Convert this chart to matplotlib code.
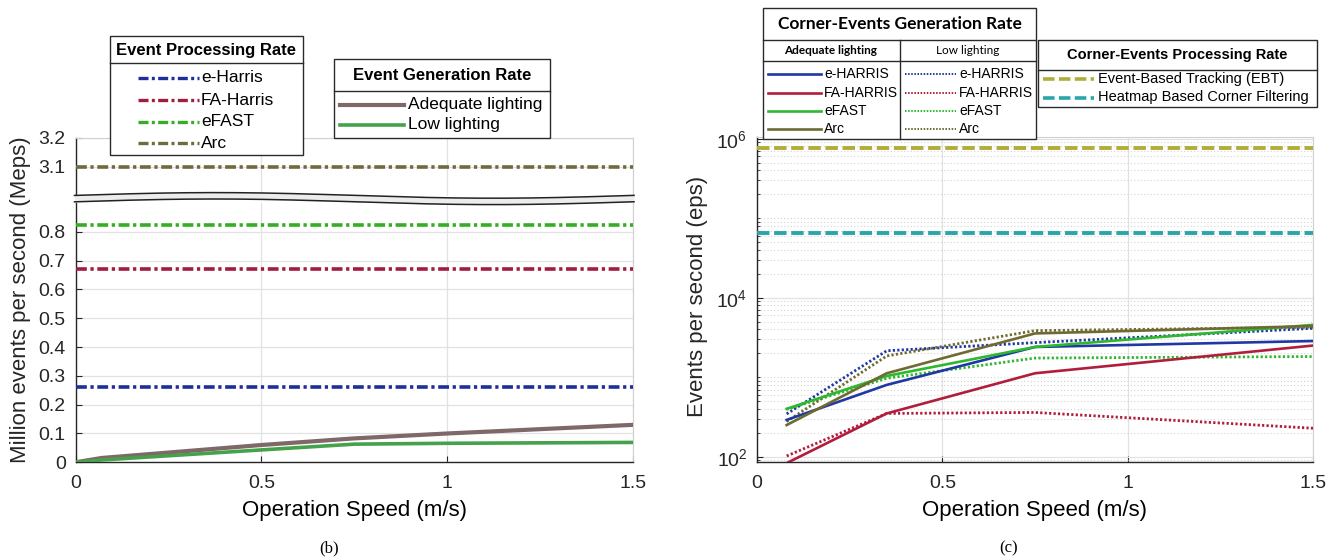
import matplotlib
matplotlib.use('Agg')
import matplotlib.pyplot as plt
import numpy as np
from matplotlib.patches import Rectangle
from matplotlib.ticker import FixedLocator, LogLocator, NullFormatter, FixedFormatter

plt.rcParams['font.family'] = ['Liberation Sans', 'DejaVu Sans']
plt.rcParams['mathtext.default'] = 'regular'

W, H, DPI = 1340, 559, 100

# ---------------- data: panel (b) ----------------
speed_gen = [0.0, 0.07, 0.5, 0.75, 1.0, 1.5]
gen_adequate = [0.0, 0.015, 0.060, 0.083, 0.100, 0.130]
gen_low = [0.0, 0.008, 0.043, 0.063, 0.066, 0.069]
gen_names = ['Adequate lighting', 'Low lighting']
proc_names = ['e-Harris', 'FA-Harris', 'eFAST', 'Arc']
proc_rates = [0.26, 0.67, 0.822, 3.1]
lower_ticks = [0, 0.1, 0.2, 0.3, 0.4, 0.5, 0.6, 0.7, 0.8]
upper_ticks = [3.1, 3.2]
x_ticks = [0, 0.5, 1, 1.5]
x_ticklabels = ['0', '0.5', '1', '1.5']

# ---------------- data: panel (c) ----------------
speed_c = [0.08, 0.35, 0.75, 1.5]
det_names = ['e-HARRIS', 'FA-HARRIS', 'eFAST', 'Arc']
adequate_eps = {
    'e-HARRIS': [290, 800, 2400, 2850],
    'FA-HARRIS': [83, 350, 1120, 2500],
    'eFAST': [400, 1035, 2400, 4550],
    'Arc': [250, 1120, 3550, 4400],
}
low_eps = {
    'e-HARRIS': [345, 2150, 2720, 4120],
    'FA-HARRIS': [102, 350, 360, 228],
    'eFAST': [395, 970, 1740, 1820],
    'Arc': [277, 1850, 3850, 4250],
}
cproc_names = ['Event-Based Tracking (EBT)', 'Heatmap Based Corner Filtering']
cproc_rates = [7.6e5, 6.5e4]

# ---------------- styles ----------------
proc_colors = ['#1f2f9a', '#a31c3e', '#35ad25', '#6e6b3c']
gen_colors = ['#7f6868', '#45a24a']
det_colors = ['#2038a3', '#b01e3c', '#2db82d', '#6e6a32']
cproc_colors = ['#b0ae38', '#2aa6aa']
DASHDOT = (0, (3.0, 1.0, 0.9, 1.0))
DASHED = (0, (3.2, 1.2))
DOTTED = (0, (0.8, 0.8))
GRID = '#e2e2e2'
SPINE = '#262626'
TICK_FS = 14
LABEL_FS = 16


def px_rect(x0, y0, x1, y1):
    return [x0 / W, 1 - y1 / H, (x1 - x0) / W, (y1 - y0) / H]


fig = plt.figure(figsize=(W / DPI, H / DPI), dpi=DPI)
fig.patch.set_facecolor('white')


def style_axes(ax, top=True, bottom=True):
    for s in ['left', 'bottom']:
        ax.spines[s].set_color(SPINE)
        ax.spines[s].set_linewidth(1.0)
    for s in ['top', 'right']:
        ax.spines[s].set_color('#d0d0d0')
        ax.spines[s].set_linewidth(0.8)
    if not top:
        ax.spines['top'].set_visible(False)
    if not bottom:
        ax.spines['bottom'].set_visible(False)
    ax.tick_params(direction='in', length=4, width=0.8, colors=SPINE,
                   labelsize=TICK_FS, labelcolor='#262626')
    ax.tick_params(axis='y', pad=7)
    ax.tick_params(axis='x', pad=9)


# ---------------- panel (b) ----------------
L0, L1 = 75.5, 633
axl = fig.add_axes(px_rect(L0, 203, L1, 462.3))
axu = fig.add_axes(px_rect(L0, 137.7, L1, 195.7))
for ax, lim in ((axl, (0, 0.9)), (axu, (3.0, 3.2))):
    ax.set_xlim(0, 1.5)
    ax.set_ylim(*lim)
    ax.set_xticks(x_ticks)
    ax.grid(True, color=GRID, lw=0.9)
    ax.set_axisbelow(True)
    for name, v, c in zip(proc_names, proc_rates, proc_colors):
        ax.axhline(v, color=c, ls=DASHDOT, lw=2.6, zorder=3)
axl.set_xticklabels(x_ticklabels)
axl.set_yticks(lower_ticks)
axl.set_yticklabels(['%g' % t for t in lower_ticks])
axu.set_yticks(upper_ticks)
axu.set_yticklabels(['%g' % t for t in upper_ticks])
axu.tick_params(axis='x', labelbottom=False, bottom=False)
style_axes(axl, top=False)
style_axes(axu, bottom=False)
axu.tick_params(axis='x', bottom=False)

axl.plot(speed_gen, gen_adequate, color=gen_colors[0], lw=3.0, zorder=4)
axl.plot(speed_gen, gen_low, color=gen_colors[1], lw=2.6, zorder=4)
axl.set_xlabel('Operation Speed (m/s)', fontsize=LABEL_FS, labelpad=6)
fig.text(21 / W, 1 - 300 / H, 'Million events per second (Meps)', rotation=90,
         fontsize=LABEL_FS, ha='center', va='center', color='#262626')

# ---------------- panel (c) ----------------
axr = fig.add_axes(px_rect(757, 137, 1313, 462.3))
axr.set_yscale('log')
axr.set_xlim(0, 1.5)
axr.set_ylim(85, 1.05e6)
axr.set_xticks(x_ticks)
axr.set_xticklabels(x_ticklabels)
axr.yaxis.set_major_locator(FixedLocator([1e2, 1e4, 1e6]))
axr.yaxis.set_major_formatter(FixedFormatter([r'$10^{2}$', r'$10^{4}$', r'$10^{6}$']))
axr.yaxis.set_minor_locator(LogLocator(base=10, subs=np.arange(1, 10), numticks=20))
axr.yaxis.set_minor_formatter(NullFormatter())
axr.grid(True, which='major', color=GRID, lw=0.9)
axr.grid(True, which='minor', axis='y', color='#d4d4d4', lw=0.8, ls=(0, (1, 2)))
axr.set_axisbelow(True)
style_axes(axr)
axr.tick_params(axis='y', which='minor', direction='in', length=2.5, color=SPINE)

for name, c in zip(det_names, det_colors):
    axr.plot(speed_c, low_eps[name], color=c, ls=DOTTED, lw=2.0, zorder=3)
for name, c in zip(det_names, det_colors):
    axr.plot(speed_c, adequate_eps[name], color=c, lw=1.9, zorder=4)
for name, v, c in zip(cproc_names, cproc_rates, cproc_colors):
    axr.axhline(v, color=c, ls=DASHED, lw=2.8, zorder=3)
axr.set_xlabel('Operation Speed (m/s)', fontsize=LABEL_FS, labelpad=6)
fig.text(698 / W, 1 - 296 / H, 'Events per second (eps)', rotation=90,
         fontsize=LABEL_FS, ha='center', va='center', color='#262626')

# captions
fig.text(329 / W, 1 - 548 / H, '(b)', fontsize=12, ha='center', va='center',
         family=['Liberation Serif'])
fig.text(1009 / W, 1 - 548 / H, '(c)', fontsize=12, ha='center', va='center',
         family=['Liberation Serif'])

# ---------------- overlay: axis break + legends (pixel coords) ----------------
ov = fig.add_axes([0, 0, 1, 1], zorder=10)
ov.set_xlim(0, W)
ov.set_ylim(H, 0)
ov.axis('off')
ov.patch.set_alpha(0)

# axis-break band
xb = np.linspace(L0 - 1, L1 + 1, 300)
tb = (xb - L0) / (L1 - L0)
yt = 195.4 - 2.8 * np.sin(2 * np.pi * tb)
yb = 201.8 - 2.8 * np.sin(2 * np.pi * tb)
ov.fill_between(xb, yt, yb, color='#ececec', lw=0)
ov.plot(xb, yt, color='#222222', lw=1.1)
ov.plot(xb, yb, color='#222222', lw=1.1)


def box(x0, y0, x1, y1):
    ov.add_patch(Rectangle((x0, y0), x1 - x0, y1 - y0, facecolor='white',
                           edgecolor='#2a2a2a', lw=1.0))


def hline(x0, x1, y):
    ov.plot([x0, x1], [y, y], color='#2a2a2a', lw=1.0)


# left: Event Processing Rate
box(110, 36, 303, 155)
hline(110, 303, 63.3)
ov.text(206.5, 50, 'Event Processing Rate', fontsize=12, fontweight='bold',
        ha='center', va='center')
for name, c, y in zip(proc_names, proc_colors, [77.7, 100.2, 121.7, 143.3]):
    ov.plot([138, 199], [y, y], color=c, ls=DASHDOT, lw=2.4)
    ov.text(201, y, name, fontsize=12.5, ha='left', va='center')

# left: Event Generation Rate
box(334, 59.3, 550, 137.7)
hline(334, 550, 91)
ov.text(442, 75, 'Event Generation Rate', fontsize=12, fontweight='bold',
        ha='center', va='center')
for name, c, y, lw in zip(gen_names, gen_colors, [105, 125], [3.0, 2.6]):
    ov.plot([340, 404], [y, y], color=c, lw=lw)
    ov.text(408, y, name, fontsize=12.5, ha='left', va='center')

# right: Corner-Events Generation Rate
box(763.4, 8.3, 1035.5, 139.3)
hline(763.4, 1035.5, 40)
hline(763.4, 1035.5, 61)
ov.plot([899.6, 899.6], [40, 139.3], color='#2a2a2a', lw=1.0)
ov.text(899.5, 24, 'Corner-Events Generation Rate', fontsize=12.5, fontweight='bold',
        ha='center', va='center', family=['Lato', 'DejaVu Sans'])
ov.text(831, 50.5, 'Adequate lighting', fontsize=8.5, fontweight='bold',
        ha='center', va='center', family=['Lato', 'DejaVu Sans'])
ov.text(967.5, 50.5, 'Low lighting', fontsize=8.5,
        ha='center', va='center', family=['Lato', 'DejaVu Sans'])
for name, c, y in zip(det_names, det_colors, [74, 92.7, 111, 129.3]):
    ov.plot([768, 821], [y, y], color=c, lw=1.9)
    ov.text(824, y, name, fontsize=10, ha='left', va='center')
    ov.plot([905, 956], [y, y], color=c, ls=DOTTED, lw=1.4)
    ov.text(959, y, name, fontsize=10, ha='left', va='center')

# right: Corner-Events Processing Rate
box(1037.6, 40, 1317.3, 107.3)
hline(1037.6, 1317.3, 70)
ov.text(1177.5, 55, 'Corner-Events Processing Rate', fontsize=10.5, fontweight='bold',
        ha='center', va='center')
for name, c, y in zip(cproc_names, cproc_colors, [78.5, 97.5]):
    ov.plot([1042.6, 1094.4], [y, y], color=c, ls=DASHED, lw=2.6)
    ov.text(1097.7, y, name, fontsize=10.5, ha='left', va='center')

fig.savefig('out.png', dpi=DPI, facecolor='white')
